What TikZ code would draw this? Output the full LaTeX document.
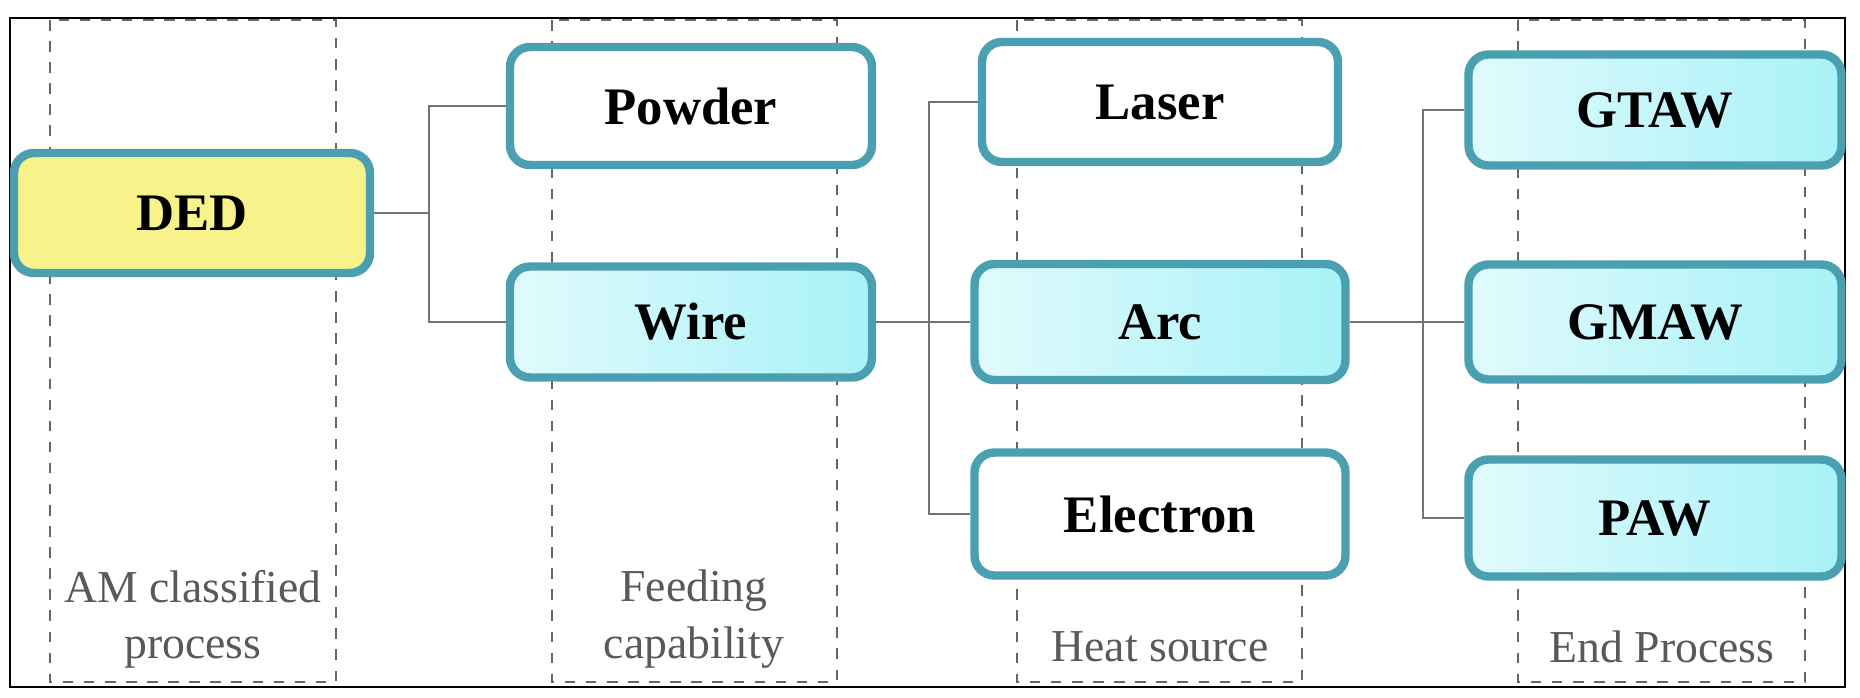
\documentclass[tikz,border=0pt]{standalone}
\usepackage{fontspec}
\setmainfont{Liberation Serif}
\usetikzlibrary{positioning}
\definecolor{edge}{HTML}{4A9FB0}
\definecolor{cyanfill}{HTML}{A8F2F8}
\definecolor{yellowfill}{HTML}{F8F28A}
\begin{document}
\begin{tikzpicture}[x=0.1mm, y=-0.1mm,
    box/.style={draw=edge, line width=2.4pt, rounded corners=2mm, align=center, font=\fontsize{15}{18}\selectfont\bfseries, inner sep=0pt},
    plain/.style={box, fill=white},
    arcbox/.style={box, left color=cyanfill!35, right color=cyanfill},
    dedbox/.style={box, fill=yellowfill},
    col/.style={draw=black!60, dashed, thick},
    lbl/.style={font=\fontsize{13}{16}\selectfont, text=black!65, align=center},
    link/.style={draw=black!55, thick},
]
\useasboundingbox (0,0) rectangle (1860,697);
\draw[thick] (10,18) rectangle (1845,687);

% Dashed columns
\draw[col] (50,20) rectangle (336,682);
\draw[col] (552,20) rectangle (837,682);
\draw[col] (1017,20) rectangle (1302,682);
\draw[col] (1518,20) rectangle (1805,682);

% Column labels
\node[lbl] (lam) at (193,619) {AM classified\\process};
\node[lbl] (lfeed) at (694,619) {Feeding\\capability};
\node[lbl] (lheat) at (1160,647) {Heat source};
\node[lbl] (lend) at (1662,647) {End Process};

% Boxes
\node[dedbox, minimum width=35.6mm, minimum height=12mm] (ded) at (192,213) {DED};
\node[plain, minimum width=36.2mm, minimum height=11.8mm] (powder) at (691,106) {Powder};
\node[arcbox, minimum width=36.2mm, minimum height=11.1mm] (wire) at (691,322) {Wire};
\node[plain, minimum width=35.6mm, minimum height=12mm] (laser) at (1160,102) {Laser};
\node[arcbox, minimum width=37.1mm, minimum height=11.6mm] (arc) at (1160,322) {Arc};
\node[plain, minimum width=37.1mm, minimum height=12.3mm] (electron) at (1160,514) {Electron};
\node[arcbox, minimum width=37.3mm, minimum height=11.1mm] (gtaw) at (1655,110) {GTAW};
\node[arcbox, minimum width=37.3mm, minimum height=11.5mm] (gmaw) at (1655,322) {GMAW};
\node[arcbox, minimum width=37.3mm, minimum height=11.7mm] (paw) at (1655,518) {PAW};

% Connectors
\coordinate (j1) at (429,213);
\coordinate (j2) at (929,322);
\coordinate (j3) at (1423,322);
\draw[link] (ded.east) -- (j1);
\draw[link] (powder.west) -| (j1) |- (wire.west);
\draw[link] (wire.east) -- (arc.west);
\draw[link] (laser.west) -| (j2) |- (electron.west);
\draw[link] (arc.east) -- (gmaw.west);
\draw[link] (gtaw.west) -| (j3) |- (paw.west);
\end{tikzpicture}
\end{document}
